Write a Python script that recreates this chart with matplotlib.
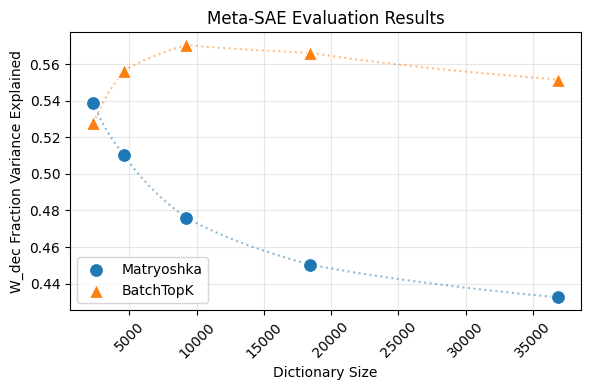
import numpy as np
import matplotlib
matplotlib.use("Agg")
import matplotlib.pyplot as plt

dict_sizes = [2304, 4608, 9216, 18432, 36864]
matryoshka = [0.5387, 0.5102, 0.4760, 0.4504, 0.4325]
batchtopk = [0.5277, 0.5565, 0.5704, 0.5662, 0.5516]

fig = plt.figure(figsize=(5.9, 3.9), dpi=100)
ax = fig.add_axes([70/590, 1-310/390, 511/590, (310-32.5)/390])

xs = np.asarray(dict_sizes, dtype=float)
dense = np.exp(np.linspace(np.log(xs[0]), np.log(xs[-1]), 300))
for vals, col in [(matryoshka, "#1f77b4"), (batchtopk, "#ff7f0e")]:
    ax.plot(dense, np.interp(np.log(dense), np.log(xs), vals), ":", color=col, alpha=0.5, lw=1.5, zorder=1)

ax.scatter(dict_sizes, matryoshka, s=100, marker="o", color="#1f77b4", edgecolor="white", linewidth=0.8, label="Matryoshka", zorder=3)
ax.scatter(dict_sizes, batchtopk, s=100, marker="^", color="#ff7f0e", edgecolor="white", linewidth=0.8, label="BatchTopK", zorder=3)

ax.set_title("Meta-SAE Evaluation Results")
ax.set_xlabel("Dictionary Size")
ax.set_ylabel("W_dec Fraction Variance Explained")
ax.grid(True, alpha=0.3)
ax.set_axisbelow(True)
plt.setp(ax.get_xticklabels(), rotation=45)
ax.legend(loc="lower left")
fig.savefig("out.png", dpi=100)
